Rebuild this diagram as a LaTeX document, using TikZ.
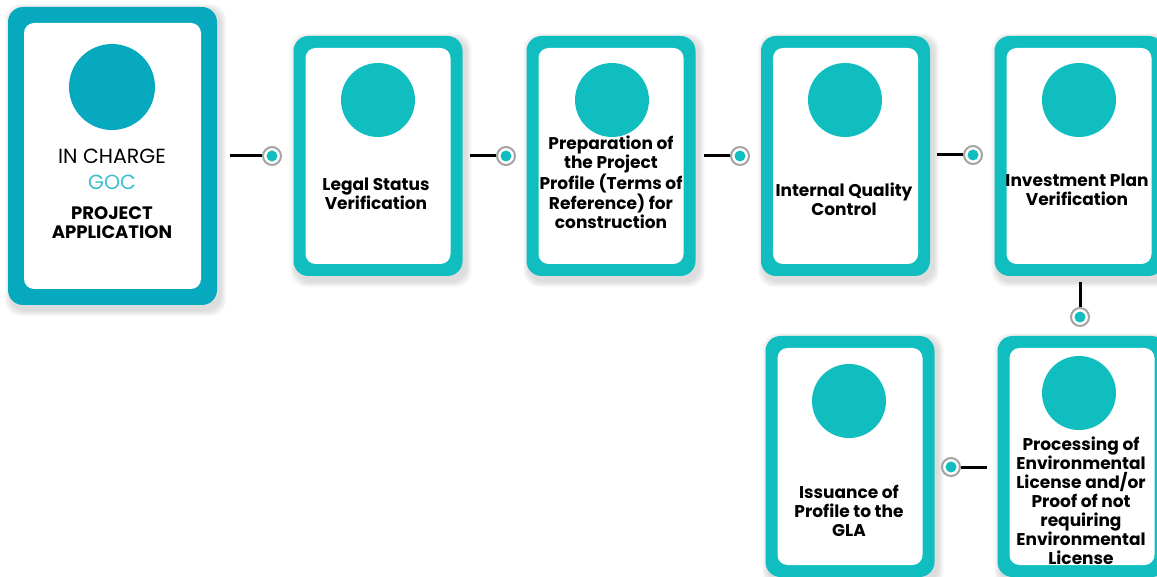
\documentclass[tikz,border=0pt]{standalone}
\usepackage{fontspec}
\setmainfont{Poppins}
\usetikzlibrary{backgrounds}
\definecolor{deepteal}{HTML}{07A9BE}
\definecolor{cardteal}{HTML}{10BEBF}
\definecolor{goctext}{HTML}{3CBECB}
\definecolor{ringgray}{HTML}{A3A3A3}
\tikzset{
  frame/.style={fill=#1, rounded corners=15pt, inner sep=0pt, draw=none},
  face/.style={fill=white, rounded corners=10pt, inner sep=0pt, draw=none},
  disc/.style={circle, fill=#1, inner sep=0pt, minimum size=74pt},
  label/.style={align=center, inner sep=0pt, font=\bfseries\fontsize{17}{19}\selectfont, text=black},
  port/.style={circle, fill=cardteal, draw=ringgray, line width=2pt, inner sep=0pt, minimum size=18pt,
    path picture={\fill[white] (path picture bounding box.center) circle (9pt);
                  \fill[cardteal] (path picture bounding box.center) circle (5.5pt);}},
  link/.style={line width=3pt, black},
}
\begin{document}
\begin{tikzpicture}[x=1pt,y=-1pt]
\useasboundingbox (0,0) rectangle (1157,577);

% first card: project application
\node[frame=deepteal, minimum width=209pt, minimum height=298pt] (c1) at (112.5,156) {};
\node[face, minimum width=177pt, minimum height=266pt] (f1) at (112.5,156) {};
\node[disc=deepteal, minimum size=86pt] (d1) at (112,87) {};
\node[inner sep=0pt, font=\fontsize{20.5}{22}\selectfont] (t1a) at (112,156) {IN CHARGE};
\node[inner sep=0pt, font=\fontsize{20.5}{22}\selectfont, text=goctext] (t1b) at (112,182) {GOC};
\node[label, font=\bfseries\fontsize{18}{19.5}\selectfont] (t1c) at (112,222.5) {PROJECT\\APPLICATION};

% upper row of steps
\foreach \n/\x in {c2/378, c3/611, c4/845.5, c5/1079}{
  \node[frame=cardteal, minimum width=169pt, minimum height=240pt] (\n) at (\x,156) {};
  \node[face, minimum width=145pt, minimum height=216pt] (\n f) at (\x,156) {};
}
% lower row of steps
\foreach \n/\x in {c6/1082, c7/850}{
  \node[frame=cardteal, minimum width=169pt, minimum height=241pt] (\n) at (\x,456.5) {};
  \node[face, minimum width=145pt, minimum height=217pt] (\n f) at (\x,456.5) {};
}

% soft shadows behind the cards
\begin{pgfonlayer}{background}
\foreach \c in {c1,c2,c3,c4,c5,c6,c7}{
  \foreach \k in {1,...,6}{
    \fill[black, opacity=0.022, rounded corners=16pt]
      ([shift={(3-\k,3-\k)}]\c.north west) rectangle ([shift={(3+\k,5+\k)}]\c.south east);
  }
}
\end{pgfonlayer}

\node[disc=cardteal] (d2) at (378,100) {};
\node[disc=cardteal] (d3) at (612,100) {};
\node[disc=cardteal] (d4) at (845,100) {};
\node[disc=cardteal] (d5) at (1079,100) {};
\node[disc=cardteal] (d6) at (1079,393) {};
\node[disc=cardteal] (d7) at (849,401) {};

\node[label] (t2) at (376,193.5) {Legal Status\\Verification};
\node[label] (t3) at (611,182) {Preparation of\\the Project\\Profile (Terms of\\Reference) for\\construction};
\node[label] (t4) at (844,199.5) {Internal Quality\\Control};
\node[label] (t5) at (1077,190) {Investment Plan\\Verification};
\node[label] (t6) at (1081,501) {Processing of\\Environmental\\License and/or\\Proof of not\\requiring\\Environmental\\License};
\node[label] (t7) at (849,510.5) {Issuance of\\Profile to the\\GLA};

% connectors between the steps
\node[port] (p1) at (272,156) {};
\node[port] (p2) at (506,156) {};
\node[port] (p3) at (740,156) {};
\node[port] (p4) at (973,155) {};
\node[port] (p5) at (1080,317) {};
\node[port] (p6) at (951,467) {};
\coordinate (s1) at (230,156);
\coordinate (s2) at (470,156);
\coordinate (s3) at (704,156);
\coordinate (s4) at (937,155);
\coordinate (s5) at (1080,282);
\coordinate (s6) at (987,467);
\draw[link] (s1) -- (p1.west);
\draw[link] (s2) -- (p2.west);
\draw[link] (s3) -- (p3.west);
\draw[link] (s4) -- (p4.west);
\draw[link] (s5) -- (p5.north);
\draw[link] (s6) -- (p6.east);
\end{tikzpicture}
\end{document}
